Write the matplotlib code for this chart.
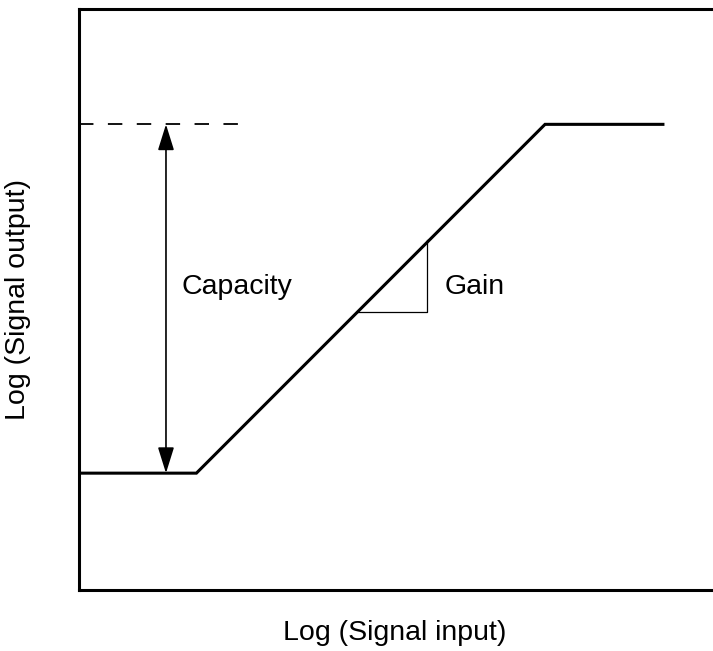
import matplotlib.pyplot as plt

plt.rcParams['font.family'] = ['Liberation Sans', 'DejaVu Sans']

# response curve breakpoints (arbitrary log units)
curve_x = [0, 18.5, 73.5, 92.1]
curve_y = [20.1, 20.1, 80.1, 80.1]

# dashed capacity reference
dash_x = [0, 25.4]
dash_y = [80.1, 80.1]

# capacity arrow position
arrow_x = 13.7

# gain triangle
tri_x = [43.8, 54.9, 54.9]
tri_y = [47.8, 47.8, 60.2]

fig = plt.figure(figsize=(7.13, 6.51), dpi=100)
ax = fig.add_axes([0.111, 0.0937, 0.889, 0.893])

ax.plot(curve_x, curve_y, color='black', lw=2.2, solid_joinstyle='miter')
ax.plot(dash_x, dash_y, color='black', lw=1.3, linestyle=(0, (8, 8)))
ax.plot(tri_x, tri_y, color='black', lw=0.9)

ax.annotate('', xy=(arrow_x, curve_y[-1]), xytext=(arrow_x, curve_y[0]),
            arrowprops=dict(arrowstyle='<|-|>,head_length=0.8,head_width=0.25',
                            mutation_scale=20, color='black', lw=1.2,
                            shrinkA=0, shrinkB=0))

ax.text(16.2, 52.1, 'Capacity', fontsize=20.5, va='center', ha='left')
ax.text(57.6, 52.1, 'Gain', fontsize=20.5, va='center', ha='left')

ax.set_xlim(0, 100)
ax.set_ylim(0, 100)
ax.set_xticks([])
ax.set_yticks([])
for s in ['left', 'top', 'bottom']:
    ax.spines[s].set_linewidth(2.2)
ax.spines['right'].set_visible(False)

ax.set_xlabel('Log (Signal input)', fontsize=20.5)
ax.set_ylabel('Log (Signal output)', fontsize=20.5)
ax.xaxis.set_label_coords(0.498, -0.052)
ax.yaxis.set_label_coords(-0.0757, 0.5)

fig.savefig('out.png', dpi=100)
